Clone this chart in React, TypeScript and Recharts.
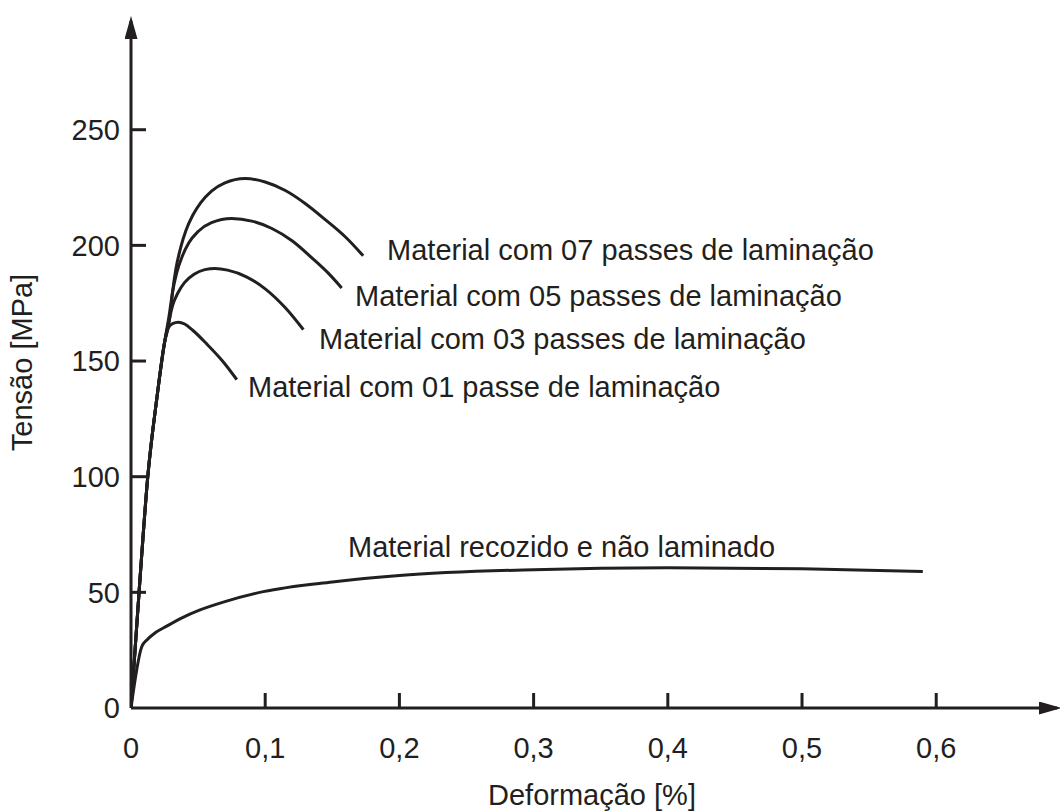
import React from 'react';
import { LineChart, Line, XAxis, YAxis, ReferenceDot, Label } from 'recharts';

const INK = '#231f20';
const FONT = '"Liberation Sans", Arial, Helvetica, sans-serif';
const FS = 29;

// tick values
const xTicks = [0, 0.1, 0.2, 0.3, 0.4, 0.5, 0.6];
const yTicks = [0, 50, 100, 150, 200, 250];

// shared elastic portion of the laminated materials
const elastic = [
  { x: 0, y: 0 },
  { x: 0.006, y: 50 },
  { x: 0.0125, y: 100 },
  { x: 0.0195, y: 135 },
  { x: 0.025, y: 158 },
];

const pass01 = [
  { x: 0.028, y: 164.5 },
  { x: 0.031, y: 166.2 },
  { x: 0.0353, y: 166.8 },
  { x: 0.04, y: 166 },
  { x: 0.046, y: 163.3 },
  { x: 0.0564, y: 157.4 },
  { x: 0.0688, y: 149.6 },
  { x: 0.0788, y: 142 },
];

const pass03 = [
  { x: 0.0285, y: 168 },
  { x: 0.031, y: 174 },
  { x: 0.035, y: 179.5 },
  { x: 0.04, y: 184 },
  { x: 0.047, y: 187.5 },
  { x: 0.055, y: 189.5 },
  { x: 0.0626, y: 190 },
  { x: 0.072, y: 189.3 },
  { x: 0.086, y: 186.4 },
  { x: 0.1, y: 181.2 },
  { x: 0.115, y: 173 },
  { x: 0.1284, y: 163.6 },
];

const pass05 = [
  { x: 0.0285, y: 170 },
  { x: 0.031, y: 180 },
  { x: 0.034, y: 188 },
  { x: 0.038, y: 195 },
  { x: 0.043, y: 201 },
  { x: 0.05, y: 206 },
  { x: 0.06, y: 209.8 },
  { x: 0.075, y: 211.6 },
  { x: 0.09, y: 210.5 },
  { x: 0.105, y: 207.3 },
  { x: 0.12, y: 202 },
  { x: 0.135, y: 194.5 },
  { x: 0.147, y: 188 },
  { x: 0.157, y: 181.6 },
];

const pass07 = [
  { x: 0.029, y: 169 },
  { x: 0.031, y: 180 },
  { x: 0.0335, y: 190 },
  { x: 0.037, y: 199 },
  { x: 0.041, y: 206.5 },
  { x: 0.046, y: 213 },
  { x: 0.052, y: 218.5 },
  { x: 0.06, y: 223.5 },
  { x: 0.07, y: 227 },
  { x: 0.085, y: 228.9 },
  { x: 0.1, y: 227.4 },
  { x: 0.115, y: 223.7 },
  { x: 0.13, y: 218 },
  { x: 0.145, y: 211 },
  { x: 0.16, y: 203.5 },
  { x: 0.173, y: 195.5 },
];

const annealed = [
  { x: 0, y: 0 },
  { x: 0.008, y: 26.5 },
  { x: 0.012, y: 29.5 },
  { x: 0.018, y: 32.5 },
  { x: 0.0266, y: 35.4 },
  { x: 0.038, y: 39 },
  { x: 0.051, y: 42.3 },
  { x: 0.07, y: 46 },
  { x: 0.0986, y: 50.3 },
  { x: 0.15, y: 54.5 },
  { x: 0.2, y: 57.3 },
  { x: 0.3, y: 59.8 },
  { x: 0.4, y: 60.6 },
  { x: 0.5, y: 60.2 },
  { x: 0.59, y: 59 },
];

const series = [
  { name: '07', data: [...elastic, ...pass07] },
  { name: '05', data: [...elastic, ...pass05] },
  { name: '03', data: [...elastic, ...pass03] },
  { name: '01', data: [...elastic, ...pass01] },
  { name: 'rec', data: annealed },
];

const annotations = [
  { text: 'Material com 07 passes de laminação', x: 0.1908, y: 198 },
  { text: 'Material com 05 passes de laminação', x: 0.1669, y: 178.1 },
  { text: 'Material com 03 passes de laminação', x: 0.1401, y: 159.5 },
  { text: 'Material com 01 passe de laminação', x: 0.0872, y: 138.8 },
  { text: 'Material recozido e não laminado', x: 0.1617, y: 70 },
];

const X_TICK_MARGIN = 40;
const Y_TICK_MARGIN = 11;
const TICK_LEN = 15;

const fmt = (v: number) => String(v).replace('.', ',');

const XTick = (props: any) => {
  const { x, y, payload } = props;
  const axisY = y - X_TICK_MARGIN;
  return (
    <g>
      {payload.value !== 0 && (
        <line x1={x} x2={x} y1={axisY} y2={axisY - TICK_LEN} stroke={INK} strokeWidth={3} />
      )}
      <text x={x} y={y} dy="0.36em" textAnchor="middle" fill={INK} fontFamily={FONT} fontSize={FS}>
        {fmt(payload.value)}
      </text>
    </g>
  );
};

const YTick = (props: any) => {
  const { x, y, payload } = props;
  const axisX = x + Y_TICK_MARGIN;
  return (
    <g>
      {payload.value !== 0 && (
        <line x1={axisX} x2={axisX + TICK_LEN} y1={y} y2={y} stroke={INK} strokeWidth={3} />
      )}
      <text x={x} y={y} dy="0.36em" textAnchor="end" fill={INK} fontFamily={FONT} fontSize={FS}>
        {fmt(payload.value)}
      </text>
    </g>
  );
};

const XTitle = (props: any) => {
  const vb = props.viewBox || {};
  const cx = vb.x + vb.width / 2 - 2;
  const cy = vb.y + 87;
  return (
    <text x={cx} y={cy} dy="0.36em" textAnchor="middle" fill={INK} fontFamily={FONT} fontSize={FS}>
      Deformação [%]
    </text>
  );
};

const YTitle = (props: any) => {
  const vb = props.viewBox || {};
  const cx = vb.x + 11;
  const cy = vb.y + vb.height / 2 - 2;
  return (
    <text
      x={cx}
      y={cy}
      dy="0.36em"
      textAnchor="middle"
      transform={`rotate(-90 ${cx} ${cy})`}
      fill={INK}
      fontFamily={FONT}
      fontSize={FS}
    >
      Tensão [MPa]
    </text>
  );
};

const makeAnnotationShape = (text: string) => (props: any) => (
  <text x={props.cx} y={props.cy} dy="0.36em" textAnchor="start" fill={INK} fontFamily={FONT} fontSize={FS}>
    {text}
  </text>
);

export default function App() {
  return (
    <div style={{ position: 'absolute', left: 0, top: 0, width: 1060, height: 812, background: '#fff' }}>
      <svg width={0} height={0} style={{ position: 'absolute' }}>
        <defs>
          <marker
            id="arrowHead"
            markerUnits="userSpaceOnUse"
            viewBox="0 0 23 13"
            refX={18}
            refY={6.5}
            markerWidth={23}
            markerHeight={13}
            orient="auto-start-reverse"
          >
            <path d="M0,0 L23,6.5 L0,13 Z" fill={INK} />
          </marker>
        </defs>
      </svg>
      <LineChart width={1060} height={812} margin={{ top: 21, right: 3, bottom: 0, left: 11 }}>
        <XAxis
          type="number"
          dataKey="x"
          domain={[0, 0.69]}
          ticks={xTicks}
          interval={0}
          height={104}
          tickSize={0}
          tickMargin={X_TICK_MARGIN}
          tickLine={false}
          axisLine={{ stroke: INK, strokeWidth: 3, markerEnd: 'url(#arrowHead)' } as any}
          tick={(p: any) => <XTick {...p} />}
          allowDataOverflow
        >
          <Label content={(p: any) => <XTitle {...p} />} />
        </XAxis>
        <YAxis
          type="number"
          dataKey="y"
          domain={[0, 297]}
          ticks={yTicks}
          interval={0}
          width={120}
          tickSize={0}
          tickMargin={Y_TICK_MARGIN}
          tickLine={false}
          axisLine={{ stroke: INK, strokeWidth: 3, markerStart: 'url(#arrowHead)' } as any}
          tick={(p: any) => <YTick {...p} />}
          allowDataOverflow
        >
          <Label content={(p: any) => <YTitle {...p} />} />
        </YAxis>
        {series.map((s) => (
          <Line
            key={s.name}
            data={s.data}
            dataKey="y"
            type="monotone"
            stroke={INK}
            strokeWidth={3}
            dot={false}
            activeDot={false}
            isAnimationActive={false}
          />
        ))}
        {annotations.map((a) => (
          <ReferenceDot
            key={a.text}
            x={a.x}
            y={a.y}
            r={0}
            ifOverflow="visible"
            shape={makeAnnotationShape(a.text)}
          />
        ))}
      </LineChart>
    </div>
  );
}
